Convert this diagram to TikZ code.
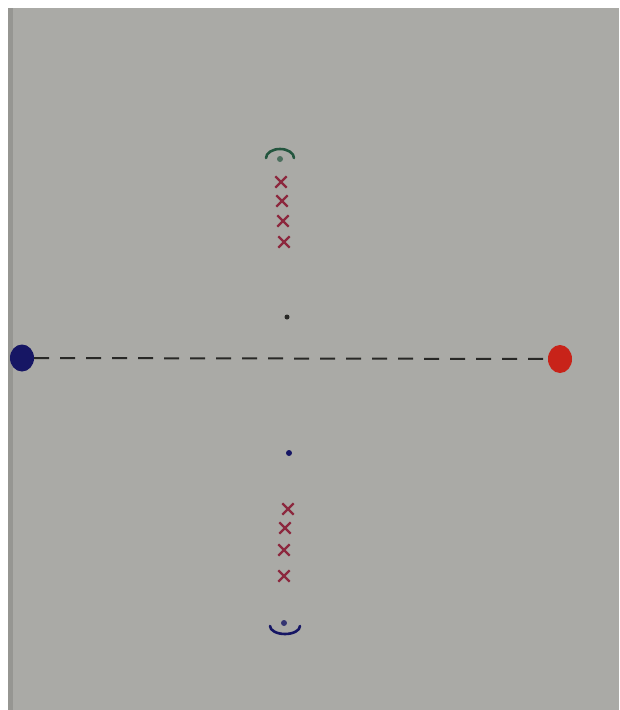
\documentclass[tikz,border=0pt]{standalone}
\usetikzlibrary{shapes.geometric,shapes.misc}
\definecolor{paper}{RGB}{170,170,166}
\definecolor{paperdark}{RGB}{150,150,146}
\definecolor{navy}{RGB}{22,22,100}
\definecolor{dotred}{RGB}{200,35,25}
\definecolor{xred}{RGB}{140,40,62}
\definecolor{arcgreen}{RGB}{35,85,62}
\definecolor{pen}{RGB}{40,40,38}
\tikzset{
  bigdot/.style={ellipse, inner sep=0pt, minimum width=24pt, minimum height=27pt},
  smalldot/.style={circle, inner sep=0pt, minimum size=5pt},
  xmark/.style={cross out, draw=xred, line width=2.3pt, inner sep=0pt, minimum size=9pt},
  axis/.style={draw=pen, line width=2pt, dash pattern=on 15pt off 11pt},
  arcline/.style={line width=2.6pt, line cap=round}
}
\begin{document}
\begin{tikzpicture}[x=1pt,y=-1pt]
\useasboundingbox (0,0) rectangle (619,710);
\fill[white] (0,0) rectangle (619,710);
\fill[paper] (8,8) rectangle (619,710);
\fill[paperdark] (8,8) rectangle (13,710);
% big dots
\node[bigdot, fill=navy] (blue) at (22,358) {};
\node[bigdot, fill=dotred, minimum height=28pt] (red) at (560,359) {};
\draw[axis] (blue.east) -- (red.west);
% central dots
\node[smalldot, fill=pen] (c1) at (287,317) {};
\node[smalldot, fill=navy, minimum size=6pt] (c2) at (289,453) {};
% top group
\node[smalldot, fill=arcgreen!70!paper, minimum size=6pt] (tg) at (280,159) {};
\draw[arcline, arcgreen] (266,158) arc[start angle=180, end angle=360, x radius=14, y radius=9];
\node[xmark] (t1) at (281,182) {};
\node[xmark] (t2) at (282,201) {};
\node[xmark] (t3) at (283,221) {};
\node[xmark] (t4) at (284,242) {};
% bottom group
\node[xmark] (b1) at (288,509) {};
\node[xmark] (b2) at (285,528) {};
\node[xmark] (b3) at (284,550) {};
\node[xmark] (b4) at (284,576) {};
\node[smalldot, fill=navy!80!paper, minimum size=6pt] (bg) at (284,623) {};
\draw[arcline, navy] (270,626) arc[start angle=180, end angle=0, x radius=15, y radius=8];
\end{tikzpicture}
\end{document}
